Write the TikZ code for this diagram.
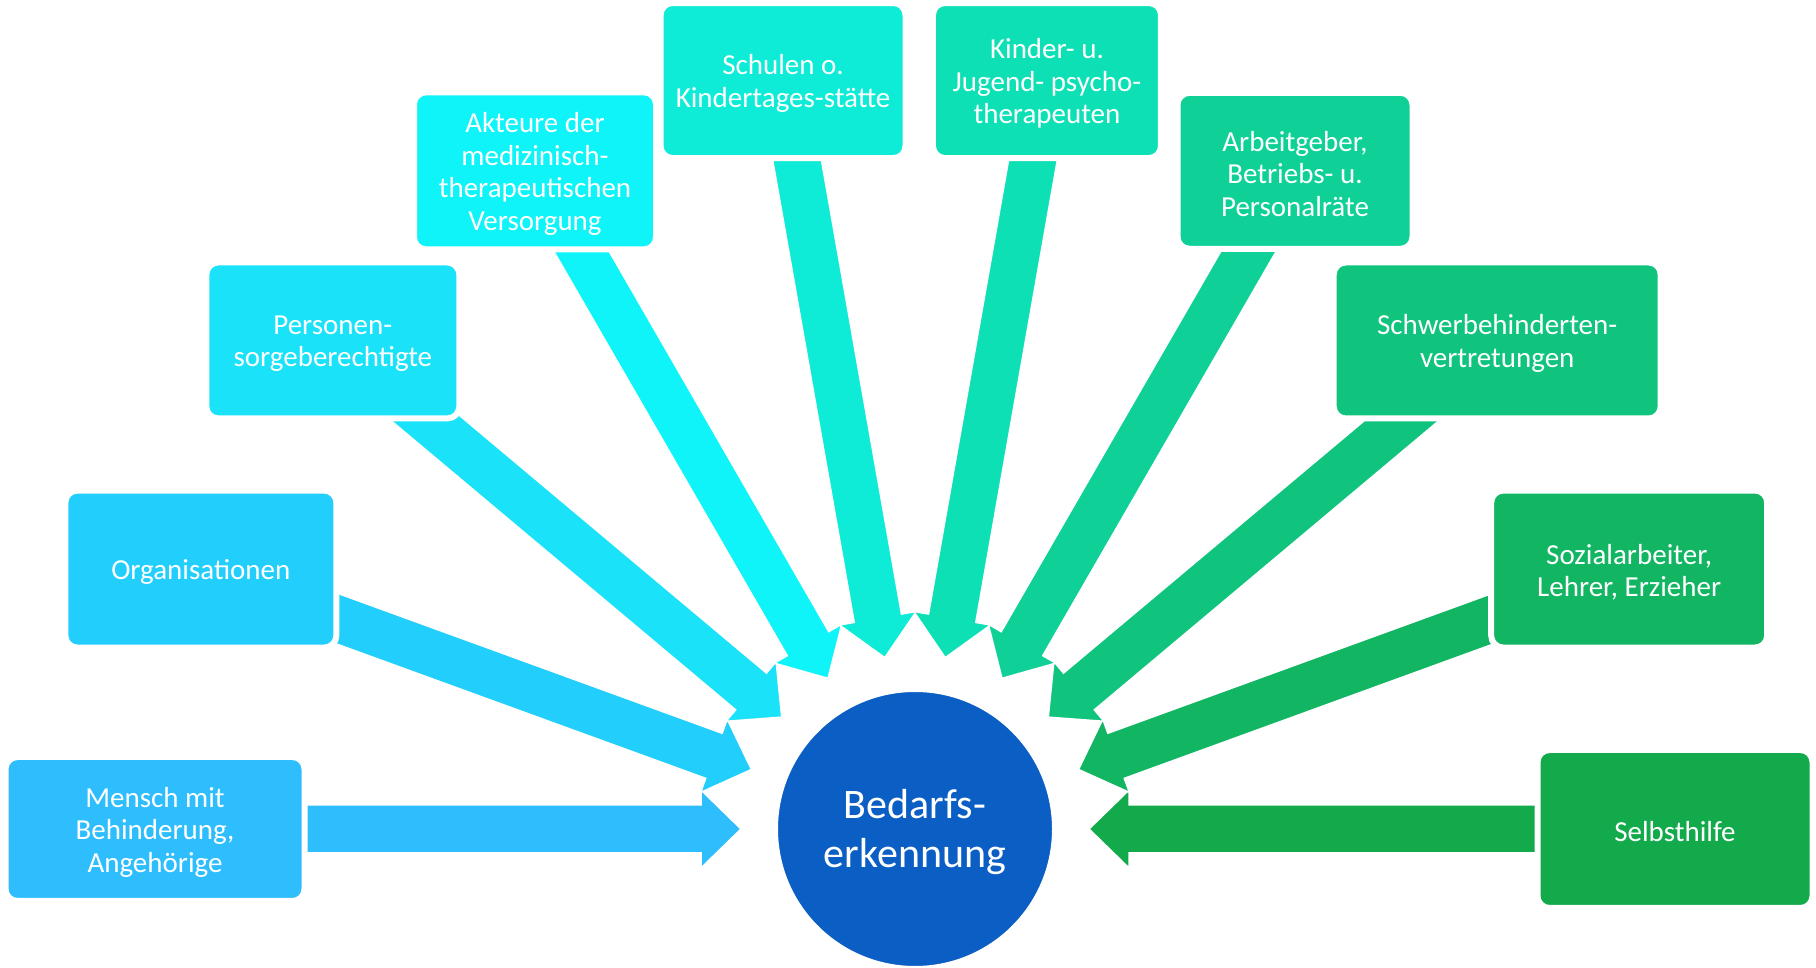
\documentclass[tikz,border=0pt]{standalone}
\usepackage{fontspec}
\setmainfont{Carlito}
\usetikzlibrary{calc}
\pgfdeclarelayer{bg}
\pgfsetlayers{bg,main}
\definecolor{c1}{HTML}{2EBDFD}
\definecolor{c2}{HTML}{22CFFC}
\definecolor{c3}{HTML}{1AE2F9}
\definecolor{c4}{HTML}{0FF4F8}
\definecolor{c5}{HTML}{0EECD8}
\definecolor{c6}{HTML}{0EE0B5}
\definecolor{c7}{HTML}{0FD197}
\definecolor{c8}{HTML}{10C47E}
\definecolor{c9}{HTML}{12B662}
\definecolor{c10}{HTML}{12AA4B}
\definecolor{hub}{HTML}{0A5EC4}
\tikzset{
  box/.style={rectangle, rounded corners=12pt, draw=white, line width=6pt,
    inner sep=0pt},
  boxtext/.style={text=white, align=center, inner sep=0pt,
    font=\fontsize{29}{32.5}\selectfont},
  hubnode/.style={circle, fill=hub, draw=white, line width=4pt,
    inner sep=0pt, minimum size=278pt},
  hubtext/.style={text=white, align=center, inner sep=0pt,
    font=\fontsize{42}{49}\selectfont},
  barrow/.style={draw=white, line width=1.5pt, line join=miter}
}
\newcommand{\blockarrow}[2]{%
  \coordinate (#1-t) at ($(c.center)!174pt!(#1.center)$);
  \coordinate (#1-h) at ($(c.center)!214pt!(#1.center)$);
  \filldraw[barrow, fill=#2] (#1-t)
    -- ($(#1-h)!39pt!90:(c.center)$)
    -- ($(#1-h)!24pt!90:(c.center)$)
    -- ($(#1.center)!24pt!90:(c.center)$)
    -- ($(#1.center)!24pt!-90:(c.center)$)
    -- ($(#1-h)!24pt!-90:(c.center)$)
    -- ($(#1-h)!39pt!-90:(c.center)$)
    -- cycle;}
\begin{document}
\begin{tikzpicture}[x=1pt,y=1pt]
\useasboundingbox (0,0) rectangle (1816,967);
\node[hubnode] (c) at (915,138) {};
\node[hubtext] (ct) at ([yshift=-3.5pt]c.center) {Bedarfs-\\erkennung};
\node[box, fill=c1, minimum width=299pt, minimum height=144pt] (b1) at ($(c.center)+(180:760)$) {};
\node[box, fill=c2, minimum width=271pt, minimum height=157pt] (b2) at ($(c.center)+(160:760)$) {};
\node[box, fill=c3, minimum width=253pt, minimum height=156pt] (b3) at ($(c.center)+(140:760)$) {};
\node[box, fill=c4, minimum width=242pt, minimum height=157pt] (b4) at ($(c.center)+(120:760)$) {};
\node[box, fill=c5, minimum width=245pt, minimum height=155pt] (b5) at ($(c.center)+(100:760)$) {};
\node[box, fill=c6, minimum width=228pt, minimum height=155pt] (b6) at ($(c.center)+(80:760)$) {};
\node[box, fill=c7, minimum width=235pt, minimum height=156pt] (b7) at ($(c.center)+(60:760)$) {};
\node[box, fill=c8, minimum width=327pt, minimum height=156pt] (b8) at ($(c.center)+(40:760)$) {};
\node[box, fill=c9, minimum width=276pt, minimum height=157pt] (b9) at ($(c.center)+(20:760)$) {};
\node[box, fill=c10, minimum width=275pt, minimum height=158pt] (b10) at ($(c.center)+(0:760)$) {};
\node[boxtext] (t1) at ([yshift=-3pt]b1.center) {Mensch mit\\Behinderung,\\Angehörige};
\node[boxtext] (t2) at ([yshift=-3pt]b2.center) {Organisationen};
\node[boxtext] (t3) at ([yshift=-3pt]b3.center) {Personen-\\sorgeberechtigte};
\node[boxtext] (t4) at ([yshift=-3pt]b4.center) {Akteure der\\medizinisch-\\therapeutischen\\Versorgung};
\node[boxtext] (t5) at ([yshift=-3pt]b5.center) {Schulen o.\\Kindertages-stätte};
\node[boxtext] (t6) at ([yshift=-3pt]b6.center) {Kinder- u.\\Jugend- psycho-\\therapeuten};
\node[boxtext] (t7) at ([yshift=-3pt]b7.center) {Arbeitgeber,\\Betriebs- u.\\Personalräte};
\node[boxtext] (t8) at ([yshift=-3pt]b8.center) {Schwerbehinderten-\\vertretungen};
\node[boxtext] (t9) at ([yshift=-3pt]b9.center) {Sozialarbeiter,\\Lehrer, Erzieher};
\node[boxtext] (t10) at ([yshift=-3pt]b10.center) {Selbsthilfe};
\begin{pgfonlayer}{bg}
\blockarrow{b1}{c1}
\blockarrow{b2}{c2}
\blockarrow{b3}{c3}
\blockarrow{b4}{c4}
\blockarrow{b5}{c5}
\blockarrow{b10}{c10}
\blockarrow{b9}{c9}
\blockarrow{b8}{c8}
\blockarrow{b7}{c7}
\blockarrow{b6}{c6}
\end{pgfonlayer}
\end{tikzpicture}
\end{document}
